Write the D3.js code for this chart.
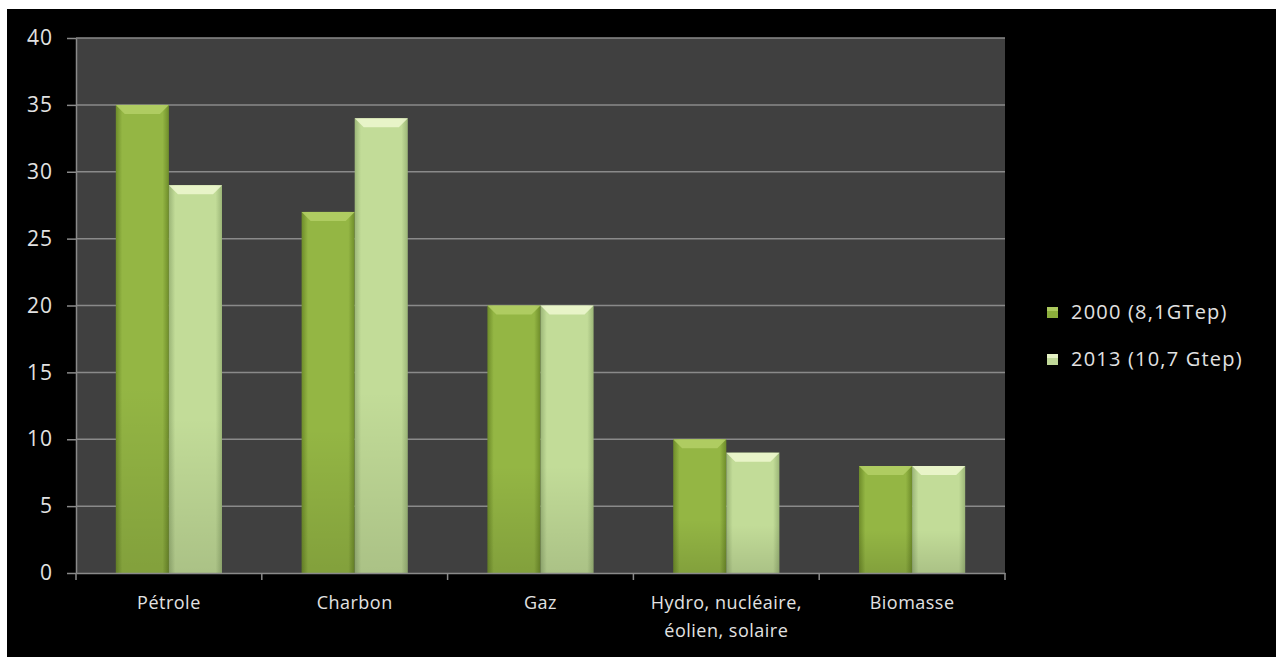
<!DOCTYPE html>
<html>
<head>
	<meta charset="utf-8">
	<style type="text/css">
		body{ margin: 0; background-color: white; }
		svg{ display: block; }
		text{ font-family: "Open Sans", "DejaVu Sans", sans-serif; fill: #e2e2e2; }
	</style>
	<title>Energie</title>
	<script src="https://cdn.jsdelivr.net/npm/d3@7"></script>
</head>
<body>
	<div id="chart"></div>
	<script type="text/javascript">
		const categories = ['Pétrole', 'Charbon', 'Gaz', 'Hydro, nucléaire,|éolien, solaire', 'Biomasse'];
		const series = ['2000 (8,1GTep)', '2013 (10,7 Gtep)'];
		const values2000 = [35, 27, 20, 10, 8];
		const values2013 = [29, 34, 20, 9, 8];
		const yTicks = [0, 5, 10, 15, 20, 25, 30, 35, 40];

		const [W, H] = [1276, 657];
		const plot = {left: 76, right: 1005, top: 38, bottom: 573};

		const svg = d3.select('#chart').append('svg')
			.attr('width', W).attr('height', H);

		// gradients for the bevelled bars
		const defs = svg.append('defs');
		const fills = [
			{id: 'g0', edge: '#6e8c2a', mid: '#94b644', top: '#b4d066'},
			{id: 'g1', edge: '#9cb678', mid: '#c2dc98', top: '#eef8d0'}
		];
		fills.forEach(f => {
			const h = defs.append('linearGradient').attr('id', f.id + 'h').attr('x1', 0).attr('x2', 1).attr('y1', 0).attr('y2', 0);
			h.append('stop').attr('offset', '0%').attr('stop-color', f.edge);
			h.append('stop').attr('offset', '12%').attr('stop-color', f.mid);
			h.append('stop').attr('offset', '88%').attr('stop-color', f.mid);
			h.append('stop').attr('offset', '100%').attr('stop-color', f.edge);
			const v = defs.append('linearGradient').attr('id', f.id + 'v').attr('x1', 0).attr('x2', 0).attr('y1', 0).attr('y2', 1);
			v.append('stop').attr('offset', '0%').attr('stop-color', '#fff').attr('stop-opacity', 0);
			v.append('stop').attr('offset', '60%').attr('stop-color', '#000').attr('stop-opacity', 0);
			v.append('stop').attr('offset', '100%').attr('stop-color', '#000').attr('stop-opacity', 0.12);
		});

		svg.append('rect').attr('x', 7).attr('y', 9).attr('width', W - 7).attr('height', H - 9).attr('fill', 'black');
		svg.append('rect')
			.attr('x', plot.left).attr('y', plot.top)
			.attr('width', plot.right - plot.left).attr('height', plot.bottom - plot.top)
			.attr('fill', '#404040');

		const yScale = d3.scaleLinear().domain([0, 40]).range([plot.bottom, plot.top]);
		const x0 = d3.scaleBand().domain(categories).range([plot.left, plot.right]).padding(0);
		const x1 = d3.scaleBand().domain(series).range([0, x0.bandwidth()]).paddingInner(0).paddingOuter(0.75);

		// gridlines
		svg.append('g').selectAll('line')
			.data(yTicks.filter(t => t > 0))
			.enter().append('line')
			.attr('x1', plot.left).attr('x2', plot.right)
			.attr('y1', d => yScale(d)).attr('y2', d => yScale(d))
			.attr('stroke', '#8a8a8a').attr('stroke-width', 1.5);

		// bars
		const rows = [];
		categories.forEach((c, i) => {
			rows.push({cat: c, s: series[0], v: values2000[i], k: 0});
			rows.push({cat: c, s: series[1], v: values2013[i], k: 1});
		});
		const bar = svg.append('g').selectAll('g').data(rows).enter().append('g');
		bar.append('rect')
			.attr('x', d => x0(d.cat) + x1(d.s)).attr('y', d => yScale(d.v))
			.attr('width', x1.bandwidth()).attr('height', d => yScale(0) - yScale(d.v))
			.attr('fill', d => `url(#g${d.k}h)`);
		bar.append('rect')
			.attr('x', d => x0(d.cat) + x1(d.s)).attr('y', d => yScale(d.v))
			.attr('width', x1.bandwidth()).attr('height', d => yScale(0) - yScale(d.v))
			.attr('fill', d => `url(#g${d.k}v)`);
		// top bevel
		bar.append('polygon')
			.attr('points', d => {
				const x = x0(d.cat) + x1(d.s), y = yScale(d.v), bw = x1.bandwidth(), b = 9;
				return [[x, y], [x + bw, y], [x + bw - b, y + b], [x + b, y + b]].map(p => p.join(',')).join(' ');
			})
			.attr('fill', d => fills[d.k].top).attr('opacity', 0.85);

		// axes
		const yAxis = d3.axisLeft(yScale).tickValues(yTicks).tickSize(9).tickSizeOuter(0).tickPadding(14);
		const gy = svg.append('g').attr('transform', `translate(${plot.left},0)`).call(yAxis);
		gy.select('.domain').attr('stroke', '#8a8a8a').attr('stroke-width', 1.5);
		gy.selectAll('.tick line').attr('stroke', '#8a8a8a').attr('stroke-width', 1.5);
		gy.selectAll('.tick text').attr('font-size', 21).attr('fill', '#e2e2e2')
			.attr('letter-spacing', 1)
			.attr('font-family', '"Open Sans", sans-serif');

		const xAxis = d3.axisBottom(x0).tickValues([]).tickSizeOuter(0);
		const gx = svg.append('g').attr('transform', `translate(0,${plot.bottom})`).call(xAxis);
		gx.select('.domain').attr('stroke', '#8a8a8a').attr('stroke-width', 1.5);
		svg.append('g').selectAll('line')
			.data(categories.map(c => x0(c)).concat([x0.range()[1]]))
			.enter().append('line')
			.attr('x1', d => d).attr('x2', d => d)
			.attr('y1', plot.bottom).attr('y2', plot.bottom + 7)
			.attr('stroke', '#8a8a8a').attr('stroke-width', 1.5);

		const labels = svg.append('g').selectAll('text').data(categories).enter().append('text')
			.attr('x', d => x0(d) + x0.bandwidth() / 2)
			.attr('y', plot.bottom + 36)
			.attr('text-anchor', 'middle')
			.attr('font-size', 18)
			.attr('letter-spacing', 0.5);
		labels.each(function(d) {
			const parts = d.split('|');
			parts.forEach((p, i) => {
				d3.select(this).append('tspan')
					.attr('x', x0(d) + x0.bandwidth() / 2)
					.attr('dy', i === 0 ? 0 : 28)
					.text(p);
			});
		});

		// legend
		const legend = svg.append('g').selectAll('g').data(series).enter().append('g')
			.attr('transform', (d, i) => `translate(1047,${307 + i * 47})`);
		legend.append('rect').attr('width', 11).attr('height', 11)
			.attr('fill', (d, i) => i === 0 ? '#8cae3c' : '#c0d898');
		legend.append('rect').attr('width', 11).attr('height', 4)
			.attr('fill', (d, i) => fills[i].top).attr('opacity', 0.8);
		legend.append('text').attr('x', 24).attr('y', 12).attr('font-size', 20)
			.attr('letter-spacing', 1.2).text(d => d);
	</script>
</body>
</html>
